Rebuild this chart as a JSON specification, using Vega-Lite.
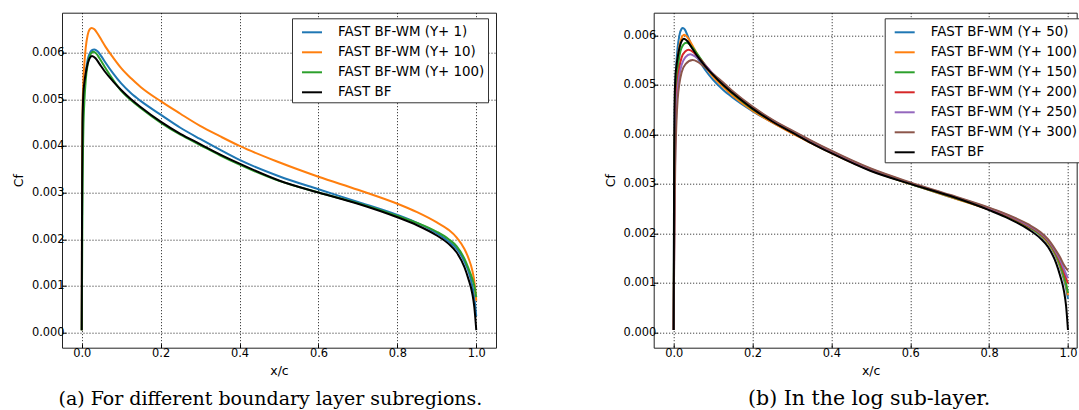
{
  "$schema": "https://vega.github.io/schema/vega-lite/v6.json",
  "autosize": {"type": "pad"},
  "padding": {"left": 11, "top": 11.7, "right": 0, "bottom": 0},
  "bounds": "flush",
  "spacing": 157.7,
  "config": {
    "view": {"stroke": "#222", "strokeWidth": 1},
    "font": "DejaVu Sans",
    "axis": {"domain": false, "ticks": true, "tickSize": -4, "tickColor": "#000", "labelFont": "DejaVu Sans", "labelFontSize": 11.4, "labelColor": "#000", "titleFont": "DejaVu Sans", "titleFontSize": 12.5, "titleFontWeight": "normal", "titleColor": "#000", "grid": true, "gridColor": "#000", "gridDash": [1, 2], "gridOpacity": 0.9, "gridWidth": 1},
    "legend": {"labelFont": "DejaVu Sans", "labelFontSize": 13.4, "labelColor": "#000", "symbolType": "stroke", "symbolSize": 400, "symbolStrokeWidth": 2, "strokeColor": "#333", "fillColor": "#fff", "padding": 3, "symbolOffset": 6, "labelOffset": 15, "rowPadding": 2, "cornerRadius": 0, "labelLimit": 300},
    "title": {"font": "DejaVu Serif", "fontSize": 19, "fontWeight": "normal", "color": "#000"}
  },
  "resolve": {"scale": {"color": "independent", "strokeWidth": "independent", "x": "independent", "y": "independent"}, "legend": {"color": "independent"}},
  "datasets": {
    "a": [
      {"s":"FAST BF-WM (Y+ 1)","x":0,"cf":0.00005},{"s":"FAST BF-WM (Y+ 1)","x":0.0005,"cf":0.0015},{"s":"FAST BF-WM (Y+ 1)","x":0.001,"cf":0.0029},{"s":"FAST BF-WM (Y+ 1)","x":0.002,"cf":0.0043},{"s":"FAST BF-WM (Y+ 1)","x":0.004,"cf":0.005},{"s":"FAST BF-WM (Y+ 1)","x":0.007,"cf":0.00535},{"s":"FAST BF-WM (Y+ 1)","x":0.01,"cf":0.00558},{"s":"FAST BF-WM (Y+ 1)","x":0.015,"cf":0.00585},{"s":"FAST BF-WM (Y+ 1)","x":0.02,"cf":0.00598},{"s":"FAST BF-WM (Y+ 1)","x":0.025,"cf":0.00605},{"s":"FAST BF-WM (Y+ 1)","x":0.032,"cf":0.00607},{"s":"FAST BF-WM (Y+ 1)","x":0.04,"cf":0.00603},{"s":"FAST BF-WM (Y+ 1)","x":0.05,"cf":0.00592},{"s":"FAST BF-WM (Y+ 1)","x":0.06,"cf":0.00579},{"s":"FAST BF-WM (Y+ 1)","x":0.08,"cf":0.00555},{"s":"FAST BF-WM (Y+ 1)","x":0.1,"cf":0.00534},{"s":"FAST BF-WM (Y+ 1)","x":0.125,"cf":0.00513},{"s":"FAST BF-WM (Y+ 1)","x":0.15,"cf":0.00496},{"s":"FAST BF-WM (Y+ 1)","x":0.2,"cf":0.00467},{"s":"FAST BF-WM (Y+ 1)","x":0.25,"cf":0.00439},{"s":"FAST BF-WM (Y+ 1)","x":0.3,"cf":0.00415},{"s":"FAST BF-WM (Y+ 1)","x":0.35,"cf":0.00392},{"s":"FAST BF-WM (Y+ 1)","x":0.4,"cf":0.0037},{"s":"FAST BF-WM (Y+ 1)","x":0.5,"cf":0.00335},{"s":"FAST BF-WM (Y+ 1)","x":0.6,"cf":0.00307},{"s":"FAST BF-WM (Y+ 1)","x":0.7,"cf":0.0028},{"s":"FAST BF-WM (Y+ 1)","x":0.8,"cf":0.00252},{"s":"FAST BF-WM (Y+ 1)","x":0.85,"cf":0.00235},{"s":"FAST BF-WM (Y+ 1)","x":0.9,"cf":0.00213},{"s":"FAST BF-WM (Y+ 1)","x":0.93,"cf":0.00195},{"s":"FAST BF-WM (Y+ 1)","x":0.95,"cf":0.0018},{"s":"FAST BF-WM (Y+ 1)","x":0.97,"cf":0.00152},{"s":"FAST BF-WM (Y+ 1)","x":0.98,"cf":0.00132},{"s":"FAST BF-WM (Y+ 1)","x":0.99,"cf":0.001},{"s":"FAST BF-WM (Y+ 1)","x":0.995,"cf":0.00075},{"s":"FAST BF-WM (Y+ 1)","x":1.0,"cf":0.00035},
      {"s":"FAST BF-WM (Y+ 10)","x":0,"cf":0.00005},{"s":"FAST BF-WM (Y+ 10)","x":0.0005,"cf":0.002},{"s":"FAST BF-WM (Y+ 10)","x":0.001,"cf":0.0035},{"s":"FAST BF-WM (Y+ 10)","x":0.002,"cf":0.0047},{"s":"FAST BF-WM (Y+ 10)","x":0.004,"cf":0.00535},{"s":"FAST BF-WM (Y+ 10)","x":0.007,"cf":0.0058},{"s":"FAST BF-WM (Y+ 10)","x":0.01,"cf":0.0061},{"s":"FAST BF-WM (Y+ 10)","x":0.015,"cf":0.00638},{"s":"FAST BF-WM (Y+ 10)","x":0.02,"cf":0.0065},{"s":"FAST BF-WM (Y+ 10)","x":0.025,"cf":0.00653},{"s":"FAST BF-WM (Y+ 10)","x":0.032,"cf":0.0065},{"s":"FAST BF-WM (Y+ 10)","x":0.04,"cf":0.00641},{"s":"FAST BF-WM (Y+ 10)","x":0.05,"cf":0.00627},{"s":"FAST BF-WM (Y+ 10)","x":0.06,"cf":0.00613},{"s":"FAST BF-WM (Y+ 10)","x":0.08,"cf":0.00589},{"s":"FAST BF-WM (Y+ 10)","x":0.1,"cf":0.00567},{"s":"FAST BF-WM (Y+ 10)","x":0.125,"cf":0.00545},{"s":"FAST BF-WM (Y+ 10)","x":0.15,"cf":0.00526},{"s":"FAST BF-WM (Y+ 10)","x":0.2,"cf":0.00496},{"s":"FAST BF-WM (Y+ 10)","x":0.25,"cf":0.00469},{"s":"FAST BF-WM (Y+ 10)","x":0.3,"cf":0.00443},{"s":"FAST BF-WM (Y+ 10)","x":0.35,"cf":0.00421},{"s":"FAST BF-WM (Y+ 10)","x":0.4,"cf":0.004},{"s":"FAST BF-WM (Y+ 10)","x":0.5,"cf":0.00365},{"s":"FAST BF-WM (Y+ 10)","x":0.6,"cf":0.00334},{"s":"FAST BF-WM (Y+ 10)","x":0.7,"cf":0.00306},{"s":"FAST BF-WM (Y+ 10)","x":0.8,"cf":0.00276},{"s":"FAST BF-WM (Y+ 10)","x":0.85,"cf":0.00258},{"s":"FAST BF-WM (Y+ 10)","x":0.9,"cf":0.00236},{"s":"FAST BF-WM (Y+ 10)","x":0.93,"cf":0.0022},{"s":"FAST BF-WM (Y+ 10)","x":0.95,"cf":0.00204},{"s":"FAST BF-WM (Y+ 10)","x":0.97,"cf":0.00179},{"s":"FAST BF-WM (Y+ 10)","x":0.98,"cf":0.0016},{"s":"FAST BF-WM (Y+ 10)","x":0.99,"cf":0.00133},{"s":"FAST BF-WM (Y+ 10)","x":0.995,"cf":0.0011},{"s":"FAST BF-WM (Y+ 10)","x":1.0,"cf":0.00068},
      {"s":"FAST BF-WM (Y+ 100)","x":0,"cf":0.00005},{"s":"FAST BF-WM (Y+ 100)","x":0.0005,"cf":0.0008},{"s":"FAST BF-WM (Y+ 100)","x":0.001,"cf":0.0015},{"s":"FAST BF-WM (Y+ 100)","x":0.002,"cf":0.003},{"s":"FAST BF-WM (Y+ 100)","x":0.004,"cf":0.0043},{"s":"FAST BF-WM (Y+ 100)","x":0.007,"cf":0.005},{"s":"FAST BF-WM (Y+ 100)","x":0.01,"cf":0.0054},{"s":"FAST BF-WM (Y+ 100)","x":0.015,"cf":0.00575},{"s":"FAST BF-WM (Y+ 100)","x":0.02,"cf":0.00592},{"s":"FAST BF-WM (Y+ 100)","x":0.029,"cf":0.00602},{"s":"FAST BF-WM (Y+ 100)","x":0.037,"cf":0.00598},{"s":"FAST BF-WM (Y+ 100)","x":0.045,"cf":0.00588},{"s":"FAST BF-WM (Y+ 100)","x":0.06,"cf":0.00567},{"s":"FAST BF-WM (Y+ 100)","x":0.08,"cf":0.00541},{"s":"FAST BF-WM (Y+ 100)","x":0.1,"cf":0.00518},{"s":"FAST BF-WM (Y+ 100)","x":0.125,"cf":0.00498},{"s":"FAST BF-WM (Y+ 100)","x":0.15,"cf":0.00481},{"s":"FAST BF-WM (Y+ 100)","x":0.2,"cf":0.0045},{"s":"FAST BF-WM (Y+ 100)","x":0.25,"cf":0.00424},{"s":"FAST BF-WM (Y+ 100)","x":0.3,"cf":0.00402},{"s":"FAST BF-WM (Y+ 100)","x":0.35,"cf":0.0038},{"s":"FAST BF-WM (Y+ 100)","x":0.4,"cf":0.0036},{"s":"FAST BF-WM (Y+ 100)","x":0.5,"cf":0.00325},{"s":"FAST BF-WM (Y+ 100)","x":0.6,"cf":0.003},{"s":"FAST BF-WM (Y+ 100)","x":0.7,"cf":0.00277},{"s":"FAST BF-WM (Y+ 100)","x":0.8,"cf":0.0025},{"s":"FAST BF-WM (Y+ 100)","x":0.85,"cf":0.00235},{"s":"FAST BF-WM (Y+ 100)","x":0.9,"cf":0.00216},{"s":"FAST BF-WM (Y+ 100)","x":0.93,"cf":0.002},{"s":"FAST BF-WM (Y+ 100)","x":0.95,"cf":0.00185},{"s":"FAST BF-WM (Y+ 100)","x":0.97,"cf":0.00158},{"s":"FAST BF-WM (Y+ 100)","x":0.98,"cf":0.00138},{"s":"FAST BF-WM (Y+ 100)","x":0.99,"cf":0.00115},{"s":"FAST BF-WM (Y+ 100)","x":0.995,"cf":0.001},{"s":"FAST BF-WM (Y+ 100)","x":1.0,"cf":0.00076},
      {"s":"FAST BF","x":0,"cf":0.00005},{"s":"FAST BF","x":0.0005,"cf":0.0018},{"s":"FAST BF","x":0.001,"cf":0.0032},{"s":"FAST BF","x":0.002,"cf":0.0045},{"s":"FAST BF","x":0.004,"cf":0.0051},{"s":"FAST BF","x":0.007,"cf":0.00538},{"s":"FAST BF","x":0.01,"cf":0.00555},{"s":"FAST BF","x":0.015,"cf":0.00576},{"s":"FAST BF","x":0.02,"cf":0.00588},{"s":"FAST BF","x":0.026,"cf":0.00593},{"s":"FAST BF","x":0.035,"cf":0.00588},{"s":"FAST BF","x":0.045,"cf":0.00576},{"s":"FAST BF","x":0.06,"cf":0.00558},{"s":"FAST BF","x":0.08,"cf":0.00538},{"s":"FAST BF","x":0.1,"cf":0.0052},{"s":"FAST BF","x":0.125,"cf":0.005},{"s":"FAST BF","x":0.15,"cf":0.00483},{"s":"FAST BF","x":0.2,"cf":0.00452},{"s":"FAST BF","x":0.25,"cf":0.00426},{"s":"FAST BF","x":0.3,"cf":0.00404},{"s":"FAST BF","x":0.35,"cf":0.00382},{"s":"FAST BF","x":0.4,"cf":0.00362},{"s":"FAST BF","x":0.5,"cf":0.00326},{"s":"FAST BF","x":0.6,"cf":0.003},{"s":"FAST BF","x":0.7,"cf":0.00276},{"s":"FAST BF","x":0.8,"cf":0.00247},{"s":"FAST BF","x":0.85,"cf":0.0023},{"s":"FAST BF","x":0.9,"cf":0.00208},{"s":"FAST BF","x":0.93,"cf":0.0019},{"s":"FAST BF","x":0.95,"cf":0.00172},{"s":"FAST BF","x":0.97,"cf":0.0014},{"s":"FAST BF","x":0.98,"cf":0.00115},{"s":"FAST BF","x":0.99,"cf":0.00083},{"s":"FAST BF","x":0.995,"cf":0.00055},{"s":"FAST BF","x":1.0,"cf":0.00005}
    ],
    "b": [
      {"s":"FAST BF-WM (Y+ 50)","x":0,"cf":0.00005},{"s":"FAST BF-WM (Y+ 50)","x":0.0005,"cf":0.0014},{"s":"FAST BF-WM (Y+ 50)","x":0.001,"cf":0.0025},{"s":"FAST BF-WM (Y+ 50)","x":0.002,"cf":0.0038},{"s":"FAST BF-WM (Y+ 50)","x":0.004,"cf":0.0049},{"s":"FAST BF-WM (Y+ 50)","x":0.007,"cf":0.00545},{"s":"FAST BF-WM (Y+ 50)","x":0.01,"cf":0.00575},{"s":"FAST BF-WM (Y+ 50)","x":0.015,"cf":0.00602},{"s":"FAST BF-WM (Y+ 50)","x":0.02,"cf":0.00613},{"s":"FAST BF-WM (Y+ 50)","x":0.023,"cf":0.00615},{"s":"FAST BF-WM (Y+ 50)","x":0.028,"cf":0.00612},{"s":"FAST BF-WM (Y+ 50)","x":0.035,"cf":0.006},{"s":"FAST BF-WM (Y+ 50)","x":0.045,"cf":0.0058},{"s":"FAST BF-WM (Y+ 50)","x":0.06,"cf":0.00555},{"s":"FAST BF-WM (Y+ 50)","x":0.08,"cf":0.0053},{"s":"FAST BF-WM (Y+ 50)","x":0.1,"cf":0.0051},{"s":"FAST BF-WM (Y+ 50)","x":0.125,"cf":0.0049},{"s":"FAST BF-WM (Y+ 50)","x":0.15,"cf":0.00474},{"s":"FAST BF-WM (Y+ 50)","x":0.2,"cf":0.00447},{"s":"FAST BF-WM (Y+ 50)","x":0.25,"cf":0.00424},{"s":"FAST BF-WM (Y+ 50)","x":0.3,"cf":0.00403},{"s":"FAST BF-WM (Y+ 50)","x":0.35,"cf":0.00383},{"s":"FAST BF-WM (Y+ 50)","x":0.4,"cf":0.00363},{"s":"FAST BF-WM (Y+ 50)","x":0.5,"cf":0.00328},{"s":"FAST BF-WM (Y+ 50)","x":0.6,"cf":0.003},{"s":"FAST BF-WM (Y+ 50)","x":0.7,"cf":0.00274},{"s":"FAST BF-WM (Y+ 50)","x":0.8,"cf":0.00248},{"s":"FAST BF-WM (Y+ 50)","x":0.85,"cf":0.00232},{"s":"FAST BF-WM (Y+ 50)","x":0.9,"cf":0.00212},{"s":"FAST BF-WM (Y+ 50)","x":0.93,"cf":0.00196},{"s":"FAST BF-WM (Y+ 50)","x":0.95,"cf":0.0018},{"s":"FAST BF-WM (Y+ 50)","x":0.97,"cf":0.00152},{"s":"FAST BF-WM (Y+ 50)","x":0.98,"cf":0.00132},{"s":"FAST BF-WM (Y+ 50)","x":0.99,"cf":0.00106},{"s":"FAST BF-WM (Y+ 50)","x":0.995,"cf":0.0009},{"s":"FAST BF-WM (Y+ 50)","x":1.0,"cf":0.00068},
      {"s":"FAST BF-WM (Y+ 100)","x":0,"cf":0.00005},{"s":"FAST BF-WM (Y+ 100)","x":0.0005,"cf":0.0012},{"s":"FAST BF-WM (Y+ 100)","x":0.001,"cf":0.0022},{"s":"FAST BF-WM (Y+ 100)","x":0.002,"cf":0.0035},{"s":"FAST BF-WM (Y+ 100)","x":0.004,"cf":0.0046},{"s":"FAST BF-WM (Y+ 100)","x":0.007,"cf":0.0052},{"s":"FAST BF-WM (Y+ 100)","x":0.01,"cf":0.0055},{"s":"FAST BF-WM (Y+ 100)","x":0.015,"cf":0.0058},{"s":"FAST BF-WM (Y+ 100)","x":0.02,"cf":0.00595},{"s":"FAST BF-WM (Y+ 100)","x":0.027,"cf":0.00601},{"s":"FAST BF-WM (Y+ 100)","x":0.035,"cf":0.00596},{"s":"FAST BF-WM (Y+ 100)","x":0.045,"cf":0.00583},{"s":"FAST BF-WM (Y+ 100)","x":0.06,"cf":0.00562},{"s":"FAST BF-WM (Y+ 100)","x":0.08,"cf":0.00537},{"s":"FAST BF-WM (Y+ 100)","x":0.1,"cf":0.00516},{"s":"FAST BF-WM (Y+ 100)","x":0.125,"cf":0.00496},{"s":"FAST BF-WM (Y+ 100)","x":0.15,"cf":0.00478},{"s":"FAST BF-WM (Y+ 100)","x":0.2,"cf":0.00448},{"s":"FAST BF-WM (Y+ 100)","x":0.25,"cf":0.00424},{"s":"FAST BF-WM (Y+ 100)","x":0.3,"cf":0.00402},{"s":"FAST BF-WM (Y+ 100)","x":0.35,"cf":0.00382},{"s":"FAST BF-WM (Y+ 100)","x":0.4,"cf":0.00362},{"s":"FAST BF-WM (Y+ 100)","x":0.5,"cf":0.00327},{"s":"FAST BF-WM (Y+ 100)","x":0.6,"cf":0.003},{"s":"FAST BF-WM (Y+ 100)","x":0.7,"cf":0.00274},{"s":"FAST BF-WM (Y+ 100)","x":0.8,"cf":0.00248},{"s":"FAST BF-WM (Y+ 100)","x":0.85,"cf":0.00233},{"s":"FAST BF-WM (Y+ 100)","x":0.9,"cf":0.00213},{"s":"FAST BF-WM (Y+ 100)","x":0.93,"cf":0.00197},{"s":"FAST BF-WM (Y+ 100)","x":0.95,"cf":0.00181},{"s":"FAST BF-WM (Y+ 100)","x":0.97,"cf":0.00154},{"s":"FAST BF-WM (Y+ 100)","x":0.98,"cf":0.00134},{"s":"FAST BF-WM (Y+ 100)","x":0.99,"cf":0.0011},{"s":"FAST BF-WM (Y+ 100)","x":0.995,"cf":0.00095},{"s":"FAST BF-WM (Y+ 100)","x":1.0,"cf":0.00075},
      {"s":"FAST BF-WM (Y+ 150)","x":0,"cf":0.00005},{"s":"FAST BF-WM (Y+ 150)","x":0.0005,"cf":0.001},{"s":"FAST BF-WM (Y+ 150)","x":0.001,"cf":0.0019},{"s":"FAST BF-WM (Y+ 150)","x":0.002,"cf":0.0032},{"s":"FAST BF-WM (Y+ 150)","x":0.004,"cf":0.0043},{"s":"FAST BF-WM (Y+ 150)","x":0.007,"cf":0.00495},{"s":"FAST BF-WM (Y+ 150)","x":0.01,"cf":0.0053},{"s":"FAST BF-WM (Y+ 150)","x":0.015,"cf":0.0056},{"s":"FAST BF-WM (Y+ 150)","x":0.02,"cf":0.00575},{"s":"FAST BF-WM (Y+ 150)","x":0.032,"cf":0.00585},{"s":"FAST BF-WM (Y+ 150)","x":0.04,"cf":0.00582},{"s":"FAST BF-WM (Y+ 150)","x":0.05,"cf":0.00573},{"s":"FAST BF-WM (Y+ 150)","x":0.06,"cf":0.00562},{"s":"FAST BF-WM (Y+ 150)","x":0.08,"cf":0.0054},{"s":"FAST BF-WM (Y+ 150)","x":0.1,"cf":0.0052},{"s":"FAST BF-WM (Y+ 150)","x":0.125,"cf":0.005},{"s":"FAST BF-WM (Y+ 150)","x":0.15,"cf":0.00482},{"s":"FAST BF-WM (Y+ 150)","x":0.2,"cf":0.00451},{"s":"FAST BF-WM (Y+ 150)","x":0.25,"cf":0.00427},{"s":"FAST BF-WM (Y+ 150)","x":0.3,"cf":0.00405},{"s":"FAST BF-WM (Y+ 150)","x":0.35,"cf":0.00384},{"s":"FAST BF-WM (Y+ 150)","x":0.4,"cf":0.00364},{"s":"FAST BF-WM (Y+ 150)","x":0.5,"cf":0.00328},{"s":"FAST BF-WM (Y+ 150)","x":0.6,"cf":0.003},{"s":"FAST BF-WM (Y+ 150)","x":0.7,"cf":0.00275},{"s":"FAST BF-WM (Y+ 150)","x":0.8,"cf":0.00249},{"s":"FAST BF-WM (Y+ 150)","x":0.85,"cf":0.00234},{"s":"FAST BF-WM (Y+ 150)","x":0.9,"cf":0.00214},{"s":"FAST BF-WM (Y+ 150)","x":0.93,"cf":0.00198},{"s":"FAST BF-WM (Y+ 150)","x":0.95,"cf":0.00183},{"s":"FAST BF-WM (Y+ 150)","x":0.97,"cf":0.00156},{"s":"FAST BF-WM (Y+ 150)","x":0.98,"cf":0.00137},{"s":"FAST BF-WM (Y+ 150)","x":0.99,"cf":0.00113},{"s":"FAST BF-WM (Y+ 150)","x":0.995,"cf":0.00099},{"s":"FAST BF-WM (Y+ 150)","x":1.0,"cf":0.0008},
      {"s":"FAST BF-WM (Y+ 200)","x":0,"cf":0.00005},{"s":"FAST BF-WM (Y+ 200)","x":0.0005,"cf":0.0009},{"s":"FAST BF-WM (Y+ 200)","x":0.001,"cf":0.0016},{"s":"FAST BF-WM (Y+ 200)","x":0.002,"cf":0.0028},{"s":"FAST BF-WM (Y+ 200)","x":0.004,"cf":0.004},{"s":"FAST BF-WM (Y+ 200)","x":0.007,"cf":0.0047},{"s":"FAST BF-WM (Y+ 200)","x":0.01,"cf":0.00505},{"s":"FAST BF-WM (Y+ 200)","x":0.015,"cf":0.00538},{"s":"FAST BF-WM (Y+ 200)","x":0.02,"cf":0.00555},{"s":"FAST BF-WM (Y+ 200)","x":0.03,"cf":0.00568},{"s":"FAST BF-WM (Y+ 200)","x":0.038,"cf":0.00571},{"s":"FAST BF-WM (Y+ 200)","x":0.05,"cf":0.00566},{"s":"FAST BF-WM (Y+ 200)","x":0.06,"cf":0.00558},{"s":"FAST BF-WM (Y+ 200)","x":0.08,"cf":0.0054},{"s":"FAST BF-WM (Y+ 200)","x":0.1,"cf":0.00521},{"s":"FAST BF-WM (Y+ 200)","x":0.125,"cf":0.00502},{"s":"FAST BF-WM (Y+ 200)","x":0.15,"cf":0.00484},{"s":"FAST BF-WM (Y+ 200)","x":0.2,"cf":0.00453},{"s":"FAST BF-WM (Y+ 200)","x":0.25,"cf":0.00428},{"s":"FAST BF-WM (Y+ 200)","x":0.3,"cf":0.00406},{"s":"FAST BF-WM (Y+ 200)","x":0.35,"cf":0.00385},{"s":"FAST BF-WM (Y+ 200)","x":0.4,"cf":0.00365},{"s":"FAST BF-WM (Y+ 200)","x":0.5,"cf":0.00329},{"s":"FAST BF-WM (Y+ 200)","x":0.6,"cf":0.00301},{"s":"FAST BF-WM (Y+ 200)","x":0.7,"cf":0.00276},{"s":"FAST BF-WM (Y+ 200)","x":0.8,"cf":0.0025},{"s":"FAST BF-WM (Y+ 200)","x":0.85,"cf":0.00235},{"s":"FAST BF-WM (Y+ 200)","x":0.9,"cf":0.00215},{"s":"FAST BF-WM (Y+ 200)","x":0.93,"cf":0.002},{"s":"FAST BF-WM (Y+ 200)","x":0.95,"cf":0.00185},{"s":"FAST BF-WM (Y+ 200)","x":0.97,"cf":0.0016},{"s":"FAST BF-WM (Y+ 200)","x":0.98,"cf":0.00143},{"s":"FAST BF-WM (Y+ 200)","x":0.99,"cf":0.00122},{"s":"FAST BF-WM (Y+ 200)","x":0.995,"cf":0.0011},{"s":"FAST BF-WM (Y+ 200)","x":1.0,"cf":0.00099},
      {"s":"FAST BF-WM (Y+ 250)","x":0,"cf":0.00005},{"s":"FAST BF-WM (Y+ 250)","x":0.0005,"cf":0.0008},{"s":"FAST BF-WM (Y+ 250)","x":0.001,"cf":0.0014},{"s":"FAST BF-WM (Y+ 250)","x":0.002,"cf":0.0025},{"s":"FAST BF-WM (Y+ 250)","x":0.004,"cf":0.0037},{"s":"FAST BF-WM (Y+ 250)","x":0.007,"cf":0.0045},{"s":"FAST BF-WM (Y+ 250)","x":0.01,"cf":0.0049},{"s":"FAST BF-WM (Y+ 250)","x":0.015,"cf":0.00522},{"s":"FAST BF-WM (Y+ 250)","x":0.02,"cf":0.0054},{"s":"FAST BF-WM (Y+ 250)","x":0.03,"cf":0.00556},{"s":"FAST BF-WM (Y+ 250)","x":0.042,"cf":0.00562},{"s":"FAST BF-WM (Y+ 250)","x":0.055,"cf":0.00557},{"s":"FAST BF-WM (Y+ 250)","x":0.07,"cf":0.00547},{"s":"FAST BF-WM (Y+ 250)","x":0.085,"cf":0.00535},{"s":"FAST BF-WM (Y+ 250)","x":0.1,"cf":0.00522},{"s":"FAST BF-WM (Y+ 250)","x":0.125,"cf":0.00503},{"s":"FAST BF-WM (Y+ 250)","x":0.15,"cf":0.00485},{"s":"FAST BF-WM (Y+ 250)","x":0.2,"cf":0.00454},{"s":"FAST BF-WM (Y+ 250)","x":0.25,"cf":0.00429},{"s":"FAST BF-WM (Y+ 250)","x":0.3,"cf":0.00407},{"s":"FAST BF-WM (Y+ 250)","x":0.35,"cf":0.00386},{"s":"FAST BF-WM (Y+ 250)","x":0.4,"cf":0.00366},{"s":"FAST BF-WM (Y+ 250)","x":0.5,"cf":0.0033},{"s":"FAST BF-WM (Y+ 250)","x":0.6,"cf":0.00302},{"s":"FAST BF-WM (Y+ 250)","x":0.7,"cf":0.00277},{"s":"FAST BF-WM (Y+ 250)","x":0.8,"cf":0.00251},{"s":"FAST BF-WM (Y+ 250)","x":0.85,"cf":0.00236},{"s":"FAST BF-WM (Y+ 250)","x":0.9,"cf":0.00216},{"s":"FAST BF-WM (Y+ 250)","x":0.93,"cf":0.00201},{"s":"FAST BF-WM (Y+ 250)","x":0.95,"cf":0.00186},{"s":"FAST BF-WM (Y+ 250)","x":0.97,"cf":0.00162},{"s":"FAST BF-WM (Y+ 250)","x":0.98,"cf":0.00147},{"s":"FAST BF-WM (Y+ 250)","x":0.99,"cf":0.00128},{"s":"FAST BF-WM (Y+ 250)","x":0.995,"cf":0.00118},{"s":"FAST BF-WM (Y+ 250)","x":1.0,"cf":0.0011},
      {"s":"FAST BF-WM (Y+ 300)","x":0,"cf":0.00005},{"s":"FAST BF-WM (Y+ 300)","x":0.0005,"cf":0.0007},{"s":"FAST BF-WM (Y+ 300)","x":0.001,"cf":0.0012},{"s":"FAST BF-WM (Y+ 300)","x":0.002,"cf":0.0022},{"s":"FAST BF-WM (Y+ 300)","x":0.004,"cf":0.0034},{"s":"FAST BF-WM (Y+ 300)","x":0.007,"cf":0.00425},{"s":"FAST BF-WM (Y+ 300)","x":0.01,"cf":0.0047},{"s":"FAST BF-WM (Y+ 300)","x":0.015,"cf":0.00505},{"s":"FAST BF-WM (Y+ 300)","x":0.02,"cf":0.00525},{"s":"FAST BF-WM (Y+ 300)","x":0.03,"cf":0.00542},{"s":"FAST BF-WM (Y+ 300)","x":0.048,"cf":0.0055},{"s":"FAST BF-WM (Y+ 300)","x":0.06,"cf":0.00547},{"s":"FAST BF-WM (Y+ 300)","x":0.075,"cf":0.00538},{"s":"FAST BF-WM (Y+ 300)","x":0.09,"cf":0.00528},{"s":"FAST BF-WM (Y+ 300)","x":0.1,"cf":0.00522},{"s":"FAST BF-WM (Y+ 300)","x":0.125,"cf":0.00505},{"s":"FAST BF-WM (Y+ 300)","x":0.15,"cf":0.00487},{"s":"FAST BF-WM (Y+ 300)","x":0.2,"cf":0.00456},{"s":"FAST BF-WM (Y+ 300)","x":0.25,"cf":0.0043},{"s":"FAST BF-WM (Y+ 300)","x":0.3,"cf":0.00408},{"s":"FAST BF-WM (Y+ 300)","x":0.35,"cf":0.00387},{"s":"FAST BF-WM (Y+ 300)","x":0.4,"cf":0.00367},{"s":"FAST BF-WM (Y+ 300)","x":0.5,"cf":0.00331},{"s":"FAST BF-WM (Y+ 300)","x":0.6,"cf":0.00303},{"s":"FAST BF-WM (Y+ 300)","x":0.7,"cf":0.00278},{"s":"FAST BF-WM (Y+ 300)","x":0.8,"cf":0.00252},{"s":"FAST BF-WM (Y+ 300)","x":0.85,"cf":0.00237},{"s":"FAST BF-WM (Y+ 300)","x":0.9,"cf":0.00218},{"s":"FAST BF-WM (Y+ 300)","x":0.93,"cf":0.00203},{"s":"FAST BF-WM (Y+ 300)","x":0.95,"cf":0.00188},{"s":"FAST BF-WM (Y+ 300)","x":0.97,"cf":0.00165},{"s":"FAST BF-WM (Y+ 300)","x":0.98,"cf":0.00152},{"s":"FAST BF-WM (Y+ 300)","x":0.99,"cf":0.00136},{"s":"FAST BF-WM (Y+ 300)","x":0.995,"cf":0.0013},{"s":"FAST BF-WM (Y+ 300)","x":1.0,"cf":0.00125},
      {"s":"FAST BF","x":0,"cf":0.00005},{"s":"FAST BF","x":0.0005,"cf":0.0018},{"s":"FAST BF","x":0.001,"cf":0.0032},{"s":"FAST BF","x":0.002,"cf":0.0045},{"s":"FAST BF","x":0.004,"cf":0.0051},{"s":"FAST BF","x":0.007,"cf":0.00538},{"s":"FAST BF","x":0.01,"cf":0.00555},{"s":"FAST BF","x":0.015,"cf":0.00576},{"s":"FAST BF","x":0.02,"cf":0.00588},{"s":"FAST BF","x":0.026,"cf":0.00593},{"s":"FAST BF","x":0.035,"cf":0.00588},{"s":"FAST BF","x":0.045,"cf":0.00576},{"s":"FAST BF","x":0.06,"cf":0.00558},{"s":"FAST BF","x":0.08,"cf":0.00538},{"s":"FAST BF","x":0.1,"cf":0.0052},{"s":"FAST BF","x":0.125,"cf":0.005},{"s":"FAST BF","x":0.15,"cf":0.00483},{"s":"FAST BF","x":0.2,"cf":0.00452},{"s":"FAST BF","x":0.25,"cf":0.00426},{"s":"FAST BF","x":0.3,"cf":0.00404},{"s":"FAST BF","x":0.35,"cf":0.00382},{"s":"FAST BF","x":0.4,"cf":0.00362},{"s":"FAST BF","x":0.5,"cf":0.00326},{"s":"FAST BF","x":0.6,"cf":0.003},{"s":"FAST BF","x":0.7,"cf":0.00276},{"s":"FAST BF","x":0.8,"cf":0.00247},{"s":"FAST BF","x":0.85,"cf":0.0023},{"s":"FAST BF","x":0.9,"cf":0.00208},{"s":"FAST BF","x":0.93,"cf":0.0019},{"s":"FAST BF","x":0.95,"cf":0.00172},{"s":"FAST BF","x":0.97,"cf":0.0014},{"s":"FAST BF","x":0.98,"cf":0.00115},{"s":"FAST BF","x":0.99,"cf":0.00083},{"s":"FAST BF","x":0.995,"cf":0.00055},{"s":"FAST BF","x":1.0,"cf":0.00005}
    ]
  },
  "hconcat": [
    {
      "width": 434,
      "height": 335,
      "data": {"name": "a"},
      "title": {"text": "(a) For different boundary layer subregions.", "orient": "bottom", "frame": "group", "anchor": "middle", "offset": 28, "baseline": "alphabetic", "dx": -8.6},
      "mark": {"type": "line", "interpolate": "monotone", "clip": true},
      "encoding": {
        "x": {"field": "x", "type": "quantitative", "scale": {"domain": [-0.05, 1.05], "nice": false, "zero": false}, "axis": {"values": [0, 0.2, 0.4, 0.6, 0.8, 1.0], "format": ".1f", "title": "x/c", "labelPadding": 4, "titlePadding": 5}},
        "y": {"field": "cf", "type": "quantitative", "scale": {"domain": [-0.000326, 0.006857], "nice": false, "zero": false}, "axis": {"values": [0, 0.001, 0.002, 0.003, 0.004, 0.005, 0.006], "format": ".3f", "title": "Cf", "labelPadding": 2, "titlePadding": 6}},
        "color": {"field": "s", "type": "nominal", "scale": {"domain": ["FAST BF-WM (Y+ 1)", "FAST BF-WM (Y+ 10)", "FAST BF-WM (Y+ 100)", "FAST BF"], "range": ["#1f77b4", "#ff7f0e", "#2ca02c", "#000000"]}, "legend": {"title": null, "orient": "none", "legendX": 230, "legendY": 5.6}},
        "strokeWidth": {"field": "s", "type": "nominal", "scale": {"domain": ["FAST BF-WM (Y+ 1)", "FAST BF-WM (Y+ 10)", "FAST BF-WM (Y+ 100)", "FAST BF"], "range": [2, 2, 2, 2.6]}, "legend": null}
      }
    },
    {
      "width": 423,
      "height": 335,
      "data": {"name": "b"},
      "title": {"text": "(b) In the log sub-layer.", "orient": "bottom", "frame": "group", "anchor": "middle", "offset": 28, "baseline": "alphabetic", "dx": 4, "fontSize": 20.5},
      "mark": {"type": "line", "interpolate": "monotone", "clip": true},
      "encoding": {
        "x": {"field": "x", "type": "quantitative", "scale": {"domain": [-0.0507, 1.0221], "nice": false, "zero": false}, "axis": {"values": [0, 0.2, 0.4, 0.6, 0.8, 1.0], "format": ".1f", "title": "x/c", "labelPadding": 4, "titlePadding": 5, "titleX": 217, "labelFlush": false}},
        "y": {"field": "cf", "type": "quantitative", "scale": {"domain": [-0.000308, 0.006457], "nice": false, "zero": false}, "axis": {"values": [0, 0.001, 0.002, 0.003, 0.004, 0.005, 0.006], "format": ".3f", "title": "Cf", "labelPadding": 2, "titlePadding": 6}},
        "color": {"field": "s", "type": "nominal", "scale": {"domain": ["FAST BF-WM (Y+ 50)", "FAST BF-WM (Y+ 100)", "FAST BF-WM (Y+ 150)", "FAST BF-WM (Y+ 200)", "FAST BF-WM (Y+ 250)", "FAST BF-WM (Y+ 300)", "FAST BF"], "range": ["#1f77b4", "#ff7f0e", "#2ca02c", "#d62728", "#9467bd", "#8c564b", "#000000"]}, "legend": {"title": null, "orient": "none", "legendX": 231, "legendY": 5.6}},
        "strokeWidth": {"field": "s", "type": "nominal", "scale": {"domain": ["FAST BF-WM (Y+ 50)", "FAST BF-WM (Y+ 100)", "FAST BF-WM (Y+ 150)", "FAST BF-WM (Y+ 200)", "FAST BF-WM (Y+ 250)", "FAST BF-WM (Y+ 300)", "FAST BF"], "range": [2, 2, 2, 2, 2, 2, 2.6]}, "legend": null}
      }
    }
  ]
}
